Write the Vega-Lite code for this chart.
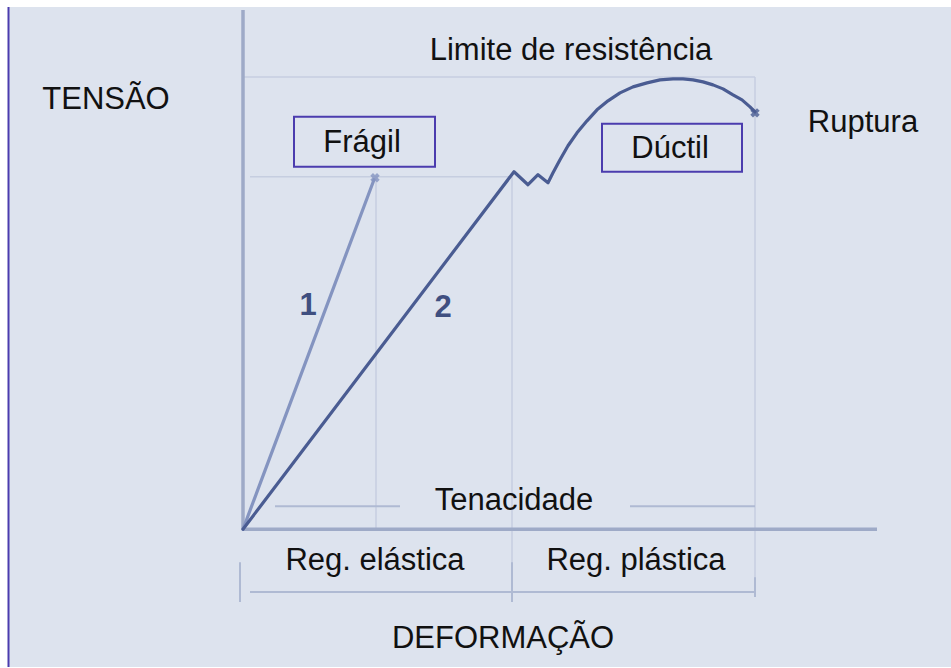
{
  "$schema": "https://vega.github.io/schema/vega-lite/v6.json",
  "width": 951,
  "height": 668,
  "autosize": {"type": "fit", "contains": "padding"},
  "padding": 0,
  "background": "#ffffff",
  "config": {"view": {"stroke": null}},
  "datasets": {
    "panel": [{"x": -234, "x2": 708, "y": -138, "y2": 523}],
    "border": [{"x": -234.5, "y": -138, "y2": 523}],
    "guides": [
      {"x": 0, "x2": 512, "y": 453, "y2": 453},
      {"x": 7, "x2": 268, "y": 353, "y2": 353},
      {"x": 133, "x2": 133, "y": 0, "y2": 353},
      {"x": 269, "x2": 269, "y": -63, "y2": 353},
      {"x": 512, "x2": 512, "y": -63, "y2": 453}
    ],
    "dims": [
      {"x": 32, "x2": 157, "y": 23, "y2": 23},
      {"x": 387, "x2": 512, "y": 23, "y2": 23},
      {"x": 7, "x2": 512, "y": -63, "y2": -63},
      {"x": -3, "x2": -3, "y": -33, "y2": -73},
      {"x": 269, "x2": 269, "y": -33, "y2": -73},
      {"x": 512, "x2": 512, "y": -48, "y2": -68}
    ],
    "axes": [
      {"x": 0, "x2": 0, "y": 0, "y2": 520},
      {"x": 0, "x2": 634, "y": 0, "y2": 0}
    ],
    "curves": [
      {"serie": "1", "ord": 0, "deformacao": 0, "tensao": 0},
      {"serie": "1", "ord": 1, "deformacao": 131, "tensao": 350},
      {"serie": "2", "ord": 0, "deformacao": 0, "tensao": 0},
      {"serie": "2", "ord": 1, "deformacao": 271, "tensao": 358},
      {"serie": "2", "ord": 2, "deformacao": 285, "tensao": 345},
      {"serie": "2", "ord": 3, "deformacao": 295, "tensao": 355},
      {"serie": "2", "ord": 4, "deformacao": 305, "tensao": 347},
      {"serie": "2", "ord": 5, "deformacao": 310, "tensao": 357},
      {"serie": "2", "ord": 6, "deformacao": 317, "tensao": 370},
      {"serie": "2", "ord": 7, "deformacao": 325, "tensao": 384},
      {"serie": "2", "ord": 8, "deformacao": 334, "tensao": 397},
      {"serie": "2", "ord": 9, "deformacao": 344, "tensao": 409},
      {"serie": "2", "ord": 10, "deformacao": 354, "tensao": 420},
      {"serie": "2", "ord": 11, "deformacao": 365, "tensao": 429},
      {"serie": "2", "ord": 12, "deformacao": 377, "tensao": 437},
      {"serie": "2", "ord": 13, "deformacao": 390, "tensao": 443},
      {"serie": "2", "ord": 14, "deformacao": 404, "tensao": 447},
      {"serie": "2", "ord": 15, "deformacao": 417, "tensao": 450},
      {"serie": "2", "ord": 16, "deformacao": 430, "tensao": 451},
      {"serie": "2", "ord": 17, "deformacao": 440, "tensao": 451},
      {"serie": "2", "ord": 18, "deformacao": 450, "tensao": 450},
      {"serie": "2", "ord": 19, "deformacao": 460, "tensao": 448},
      {"serie": "2", "ord": 20, "deformacao": 470, "tensao": 445},
      {"serie": "2", "ord": 21, "deformacao": 480, "tensao": 441},
      {"serie": "2", "ord": 22, "deformacao": 490, "tensao": 435},
      {"serie": "2", "ord": 23, "deformacao": 499, "tensao": 430},
      {"serie": "2", "ord": 24, "deformacao": 507, "tensao": 423},
      {"serie": "2", "ord": 25, "deformacao": 512, "tensao": 418}
    ],
    "ends": [
      {"serie": "1", "deformacao": 132, "tensao": 352},
      {"serie": "2", "deformacao": 512, "tensao": 417}
    ],
    "boxes": [
      {"x": 51, "x2": 192, "y": 413, "y2": 363},
      {"x": 359, "x2": 499, "y": 406, "y2": 358}
    ],
    "labels": [
      {"txt": "TENSÃO", "x": -137, "y": 421},
      {"txt": "Limite de resistência", "x": 328, "y": 470},
      {"txt": "Frágil", "x": 119, "y": 378},
      {"txt": "Dúctil", "x": 427, "y": 372},
      {"txt": "Ruptura", "x": 620, "y": 398},
      {"txt": "Tenacidade", "x": 271, "y": 19},
      {"txt": "Reg. elástica", "x": 132, "y": -41},
      {"txt": "Reg. plástica", "x": 393, "y": -41},
      {"txt": "DEFORMAÇÃO", "x": 260, "y": -119}
    ],
    "nums": [
      {"txt": "1", "x": 65, "y": 215},
      {"txt": "2", "x": 200, "y": 213}
    ]
  },
  "layer": [
    {
      "data": {"name": "panel"},
      "mark": {"type": "rect", "color": "#dde3ee"},
      "encoding": {
        "x": {"field": "x", "type": "quantitative", "scale": {"domain": [-243, 708], "nice": false, "zero": false}, "axis": null},
        "x2": {"field": "x2"},
        "y": {"field": "y", "type": "quantitative", "scale": {"domain": [-138, 530], "nice": false, "zero": false}, "axis": null},
        "y2": {"field": "y2"}
      }
    },
    {
      "data": {"name": "border"},
      "mark": {"type": "rule", "color": "#4b3cae", "strokeWidth": 2},
      "encoding": {
        "x": {"field": "x", "type": "quantitative"},
        "y": {"field": "y", "type": "quantitative"},
        "y2": {"field": "y2"}
      }
    },
    {
      "data": {"name": "guides"},
      "mark": {"type": "rule", "color": "#c6cee0", "strokeWidth": 1.5},
      "encoding": {
        "x": {"field": "x", "type": "quantitative"},
        "x2": {"field": "x2"},
        "y": {"field": "y", "type": "quantitative"},
        "y2": {"field": "y2"}
      }
    },
    {
      "data": {"name": "dims"},
      "mark": {"type": "rule", "color": "#afbad3", "strokeWidth": 2},
      "encoding": {
        "x": {"field": "x", "type": "quantitative"},
        "x2": {"field": "x2"},
        "y": {"field": "y", "type": "quantitative"},
        "y2": {"field": "y2"}
      }
    },
    {
      "data": {"name": "axes"},
      "mark": {"type": "rule", "color": "#9eaac7", "strokeWidth": 3.5},
      "encoding": {
        "x": {"field": "x", "type": "quantitative"},
        "x2": {"field": "x2"},
        "y": {"field": "y", "type": "quantitative"},
        "y2": {"field": "y2"}
      }
    },
    {
      "data": {"name": "curves"},
      "mark": {"type": "line", "strokeWidth": 3.2, "interpolate": "linear", "strokeCap": "round", "strokeJoin": "round"},
      "encoding": {
        "x": {"field": "deformacao", "type": "quantitative"},
        "y": {"field": "tensao", "type": "quantitative"},
        "order": {"field": "ord", "type": "quantitative"},
        "color": {"field": "serie", "type": "nominal", "scale": {"domain": ["1", "2"], "range": ["#8494c0", "#4a5c92"]}, "legend": null}
      }
    },
    {
      "data": {"name": "ends"},
      "mark": {"type": "point", "shape": "cross", "angle": 45, "filled": true, "size": 90, "opacity": 0.8},
      "encoding": {
        "x": {"field": "deformacao", "type": "quantitative"},
        "y": {"field": "tensao", "type": "quantitative"},
        "color": {"field": "serie", "type": "nominal", "scale": {"domain": ["1", "2"], "range": ["#8494c0", "#8a9ac4"]}, "legend": null}
      }
    },
    {
      "data": {"name": "boxes"},
      "mark": {"type": "rect", "fill": null, "fillOpacity": 0, "stroke": "#4b3cae", "strokeWidth": 2},
      "encoding": {
        "x": {"field": "x", "type": "quantitative"},
        "x2": {"field": "x2"},
        "y": {"field": "y", "type": "quantitative"},
        "y2": {"field": "y2"}
      }
    },
    {
      "data": {"name": "labels"},
      "mark": {"type": "text", "font": "Liberation Sans", "fontSize": 31, "color": "#111111", "align": "center", "baseline": "alphabetic"},
      "encoding": {
        "x": {"field": "x", "type": "quantitative"},
        "y": {"field": "y", "type": "quantitative"},
        "text": {"field": "txt"}
      }
    },
    {
      "data": {"name": "nums"},
      "mark": {"type": "text", "font": "Liberation Sans", "fontSize": 31, "fontWeight": "bold", "color": "#3f4f80", "align": "center", "baseline": "alphabetic"},
      "encoding": {
        "x": {"field": "x", "type": "quantitative"},
        "y": {"field": "y", "type": "quantitative"},
        "text": {"field": "txt"}
      }
    }
  ]
}
